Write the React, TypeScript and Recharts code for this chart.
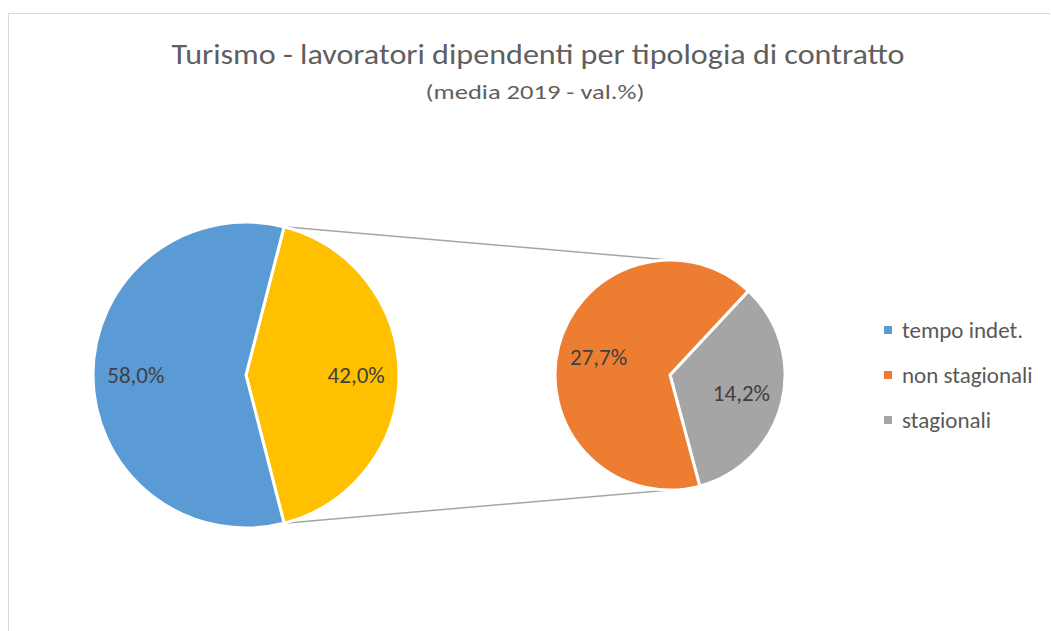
import { PieChart, Pie, Cell, Legend, Customized } from 'recharts'

// main pie: tempo indeterminato vs the share exploded into the second pie
const mainNames = ['altro', 'tempo indet.']
const mainValues = [42.0, 58.0]
const mainColors = ['#FFC000', '#5B9BD5']

// secondary pie: breakdown of the 42% (order: gray first, clockwise)
const subNames = ['stagionali', 'non stagionali']
const subValues = [14.2, 27.7]
const subColors = ['#A5A5A5', '#ED7D31']

const legendNames = ['tempo indet.', 'non stagionali', 'stagionali']
const legendColors = ['#5B9BD5', '#ED7D31', '#A5A5A5']

const TITLE = 'Turismo - lavoratori dipendenti per tipologia di contratto'
const SUBTITLE = '(media 2019 - val.%)'

const FONT = 'Carlito, Calibri, Lato, sans-serif'
const W = 1051
const H = 631

const MAIN = { cx: 246, cy: 375, r: 153 }
const SUB = { cx: 670, cy: 375, r: 115, start: 47 }

const mainData = mainNames.map((name, i) => ({ name, value: mainValues[i] }))
const subData = subNames.map((name, i) => ({ name, value: subValues[i] }))

const mainTotal = mainValues.reduce((a, b) => a + b, 0)
const splitHalf = (mainValues[0] / mainTotal) * 180 // half-angle of the split slice

const RAD = Math.PI / 180
const fmt = (v: number) => v.toFixed(1).replace('.', ',') + '%'

const makeLabel = (ratio: number) => (p: any) => {
  const r = p.outerRadius * ratio
  const x = p.cx + r * Math.cos(-p.midAngle * RAD)
  const y = p.cy + r * Math.sin(-p.midAngle * RAD)
  return (
    <text x={x} y={y} textAnchor="middle" dominantBaseline="central"
      fill="#404040" fontSize={23} fontFamily={FONT}>
      {fmt(p.value)}
    </text>
  )
}

function Decor() {
  const ex = MAIN.cx + MAIN.r * Math.cos(splitHalf * RAD)
  const dy = MAIN.r * Math.sin(splitHalf * RAD)
  return (
    <g>
      <path d={`M8.5,${H} V13.5 H${W - 1}`} fill="none" stroke="#D9D9D9" strokeWidth={1} />
      <text x={538} y={64} textAnchor="middle" fill="#5f5f5f" fontSize={28} fontWeight={300}
        fontFamily={FONT} textLength={733} lengthAdjust="spacingAndGlyphs">{TITLE}</text>
      <text x={535} y={99} textAnchor="middle" fill="#5f5f5f" fontSize={20} fontWeight={300}
        fontFamily={FONT} textLength={219} lengthAdjust="spacingAndGlyphs">{SUBTITLE}</text>
      <line x1={ex} y1={MAIN.cy - dy} x2={SUB.cx} y2={SUB.cy - SUB.r} stroke="#A5A5A5" strokeWidth={1.5} />
      <line x1={ex} y1={MAIN.cy + dy} x2={SUB.cx} y2={SUB.cy + SUB.r} stroke="#A5A5A5" strokeWidth={1.5} />
    </g>
  )
}

function LegendBox() {
  return (
    <div style={{ fontFamily: FONT, fontSize: 23, color: '#595959' }}>
      {legendNames.map((n, i) => (
        <div key={n} style={{ display: 'flex', alignItems: 'center', height: 45 }}>
          <span style={{ width: 8, height: 8, background: legendColors[i], marginRight: 10, display: 'inline-block' }} />
          <span>{n}</span>
        </div>
      ))}
    </div>
  )
}

export default function App() {
  return (
    <div style={{ position: 'absolute', left: 0, top: 0, width: W, height: H, background: '#fff' }}>
      <PieChart width={W} height={H} margin={{ top: 0, right: 0, bottom: 0, left: 0 }}>
        <Customized component={Decor} />
        <Pie data={mainData} dataKey="value" nameKey="name" cx={MAIN.cx} cy={MAIN.cy}
          outerRadius={MAIN.r} startAngle={splitHalf} endAngle={splitHalf - 360}
          stroke="#fff" strokeWidth={3} label={makeLabel(0.72)} labelLine={false}
          isAnimationActive={false}>
          {mainData.map((d, i) => <Cell key={d.name} fill={mainColors[i]} />)}
        </Pie>
        <Pie data={subData} dataKey="value" nameKey="name" cx={SUB.cx} cy={SUB.cy}
          outerRadius={SUB.r} startAngle={SUB.start} endAngle={SUB.start - 360}
          stroke="#fff" strokeWidth={3} label={makeLabel(0.64)} labelLine={false}
          isAnimationActive={false}>
          {subData.map((d, i) => <Cell key={d.name} fill={subColors[i]} />)}
        </Pie>
        <Legend content={<LegendBox />} wrapperStyle={{ left: 884, top: 307, width: 170 }} />
      </PieChart>
    </div>
  )
}
